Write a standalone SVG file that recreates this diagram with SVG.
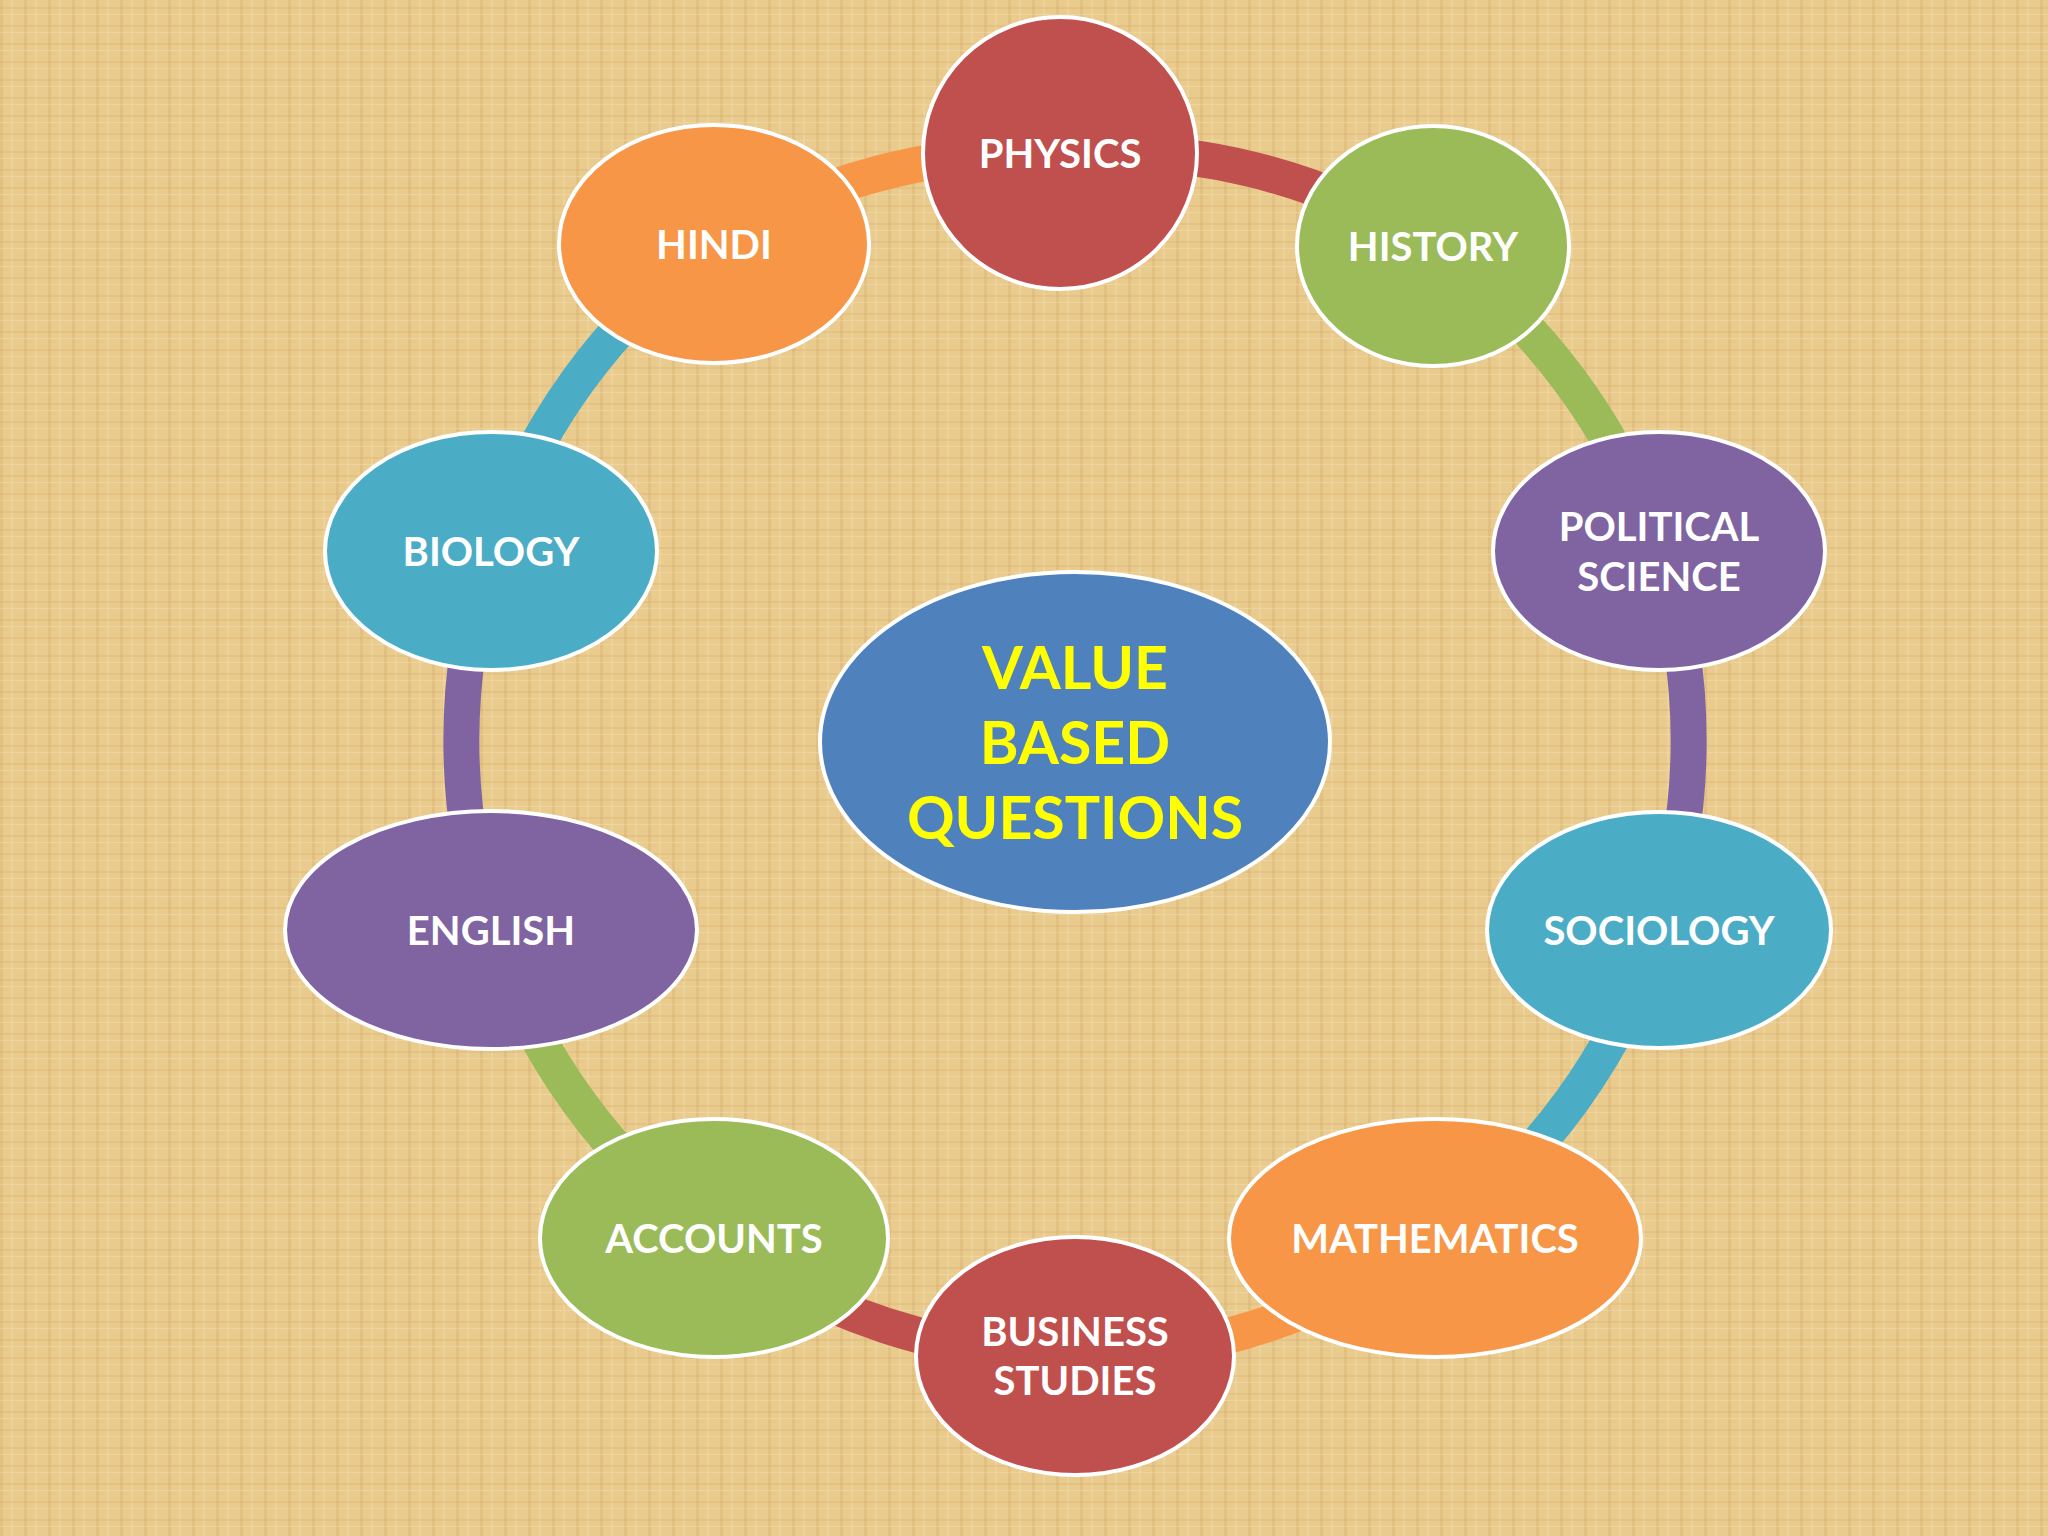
<svg xmlns="http://www.w3.org/2000/svg" width="2048" height="1536" viewBox="0 0 2048 1536">
<defs>
<pattern id="tex" width="24" height="18" patternUnits="userSpaceOnUse">
<rect width="24" height="18" fill="#E9CB8E"/>
<rect x="0" y="0" width="3" height="18" fill="#D9B574" opacity="0.45"/>
<rect x="11" y="0" width="2" height="18" fill="#F2DAA6" opacity="0.5"/>
<rect x="0" y="7" width="24" height="2" fill="#D6B070" opacity="0.35"/>
<rect x="0" y="14" width="24" height="1" fill="#F4DEAE" opacity="0.5"/>
</pattern>
<style>
.n{stroke:#fff;stroke-width:4}
.t{font-family:Lato,"Open Sans",sans-serif;font-weight:bold;font-size:40px;fill:#fff;text-anchor:middle;dominant-baseline:central}
.c{font-family:Lato,"Open Sans",sans-serif;font-weight:bold;font-size:59px;fill:#FFFF00;text-anchor:middle;dominant-baseline:central}
.a{fill:none;stroke-width:36}
</style>
</defs>
<rect width="2048" height="1536" fill="url(#tex)"/>
<g id="connectors">
<path class="a" stroke="#C0504D" d="M1060,153 A620,620 0 0 1 1433,246"/>
<path class="a" stroke="#9BBB59" d="M1433,246 A620,620 0 0 1 1659,551"/>
<path class="a" stroke="#8064A2" d="M1659,551 A620,620 0 0 1 1659,930"/>
<path class="a" stroke="#4BACC6" d="M1659,930 A620,620 0 0 1 1435,1238"/>
<path class="a" stroke="#F79646" d="M1435,1238 A620,620 0 0 1 1075,1356"/>
<path class="a" stroke="#C0504D" d="M1075,1356 A620,620 0 0 1 714,1238"/>
<path class="a" stroke="#9BBB59" d="M714,1238 A620,620 0 0 1 491,930"/>
<path class="a" stroke="#8064A2" d="M491,930 A620,620 0 0 1 491,551"/>
<path class="a" stroke="#4BACC6" d="M491,551 A620,620 0 0 1 714,244"/>
<path class="a" stroke="#F79646" d="M714,244 A620,620 0 0 1 1060,153"/>
</g>
<g id="physics"><ellipse class="n" cx="1060" cy="153" rx="137" ry="136" fill="#C0504D"/><text class="t" x="1060" y="153">PHYSICS</text></g>
<g id="hindi"><ellipse class="n" cx="714" cy="244" rx="155" ry="119" fill="#F79646"/><text class="t" x="714" y="244">HINDI</text></g>
<g id="history"><ellipse class="n" cx="1433" cy="246" rx="136" ry="120" fill="#9BBB59"/><text class="t" x="1433" y="246">HISTORY</text></g>
<g id="biology"><ellipse class="n" cx="491" cy="551" rx="166" ry="119" fill="#4BACC6"/><text class="t" x="491" y="551">BIOLOGY</text></g>
<g id="political"><ellipse class="n" cx="1659" cy="551" rx="166" ry="119" fill="#8064A2"/><text class="t" x="1659" y="526">POLITICAL</text><text class="t" x="1659" y="576">SCIENCE</text></g>
<g id="english"><ellipse class="n" cx="491" cy="930" rx="206" ry="119" fill="#8064A2"/><text class="t" x="491" y="930">ENGLISH</text></g>
<g id="sociology"><ellipse class="n" cx="1659" cy="930" rx="172" ry="118" fill="#4BACC6"/><text class="t" x="1659" y="930">SOCIOLOGY</text></g>
<g id="accounts"><ellipse class="n" cx="714" cy="1238" rx="174" ry="119" fill="#9BBB59"/><text class="t" x="714" y="1238">ACCOUNTS</text></g>
<g id="mathematics"><ellipse class="n" cx="1435" cy="1238" rx="206" ry="119" fill="#F79646"/><text class="t" x="1435" y="1238">MATHEMATICS</text></g>
<g id="business"><ellipse class="n" cx="1075" cy="1356" rx="159" ry="119" fill="#C0504D"/><text class="t" x="1075" y="1331">BUSINESS</text><text class="t" x="1075" y="1380">STUDIES</text></g>
<g id="center"><ellipse class="n" cx="1075" cy="742" rx="255" ry="170" fill="#4F81BD"/><text class="c" x="1075" y="666">VALUE</text><text class="c" x="1075" y="741">BASED</text><text class="c" x="1075" y="816">QUESTIONS</text></g>
</svg>
